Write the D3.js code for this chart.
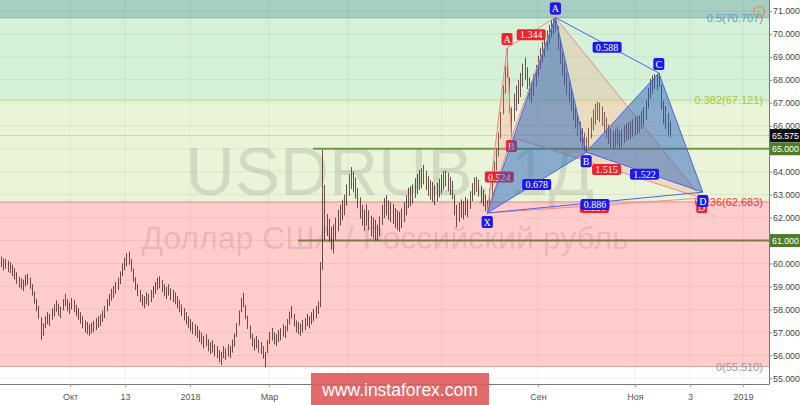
<!DOCTYPE html>
<html><head><meta charset="utf-8">
<script src="https://cdn.jsdelivr.net/npm/d3@7"></script>
<style>body{margin:0;background:#fff;overflow:hidden}svg{display:block;font-family:"Liberation Sans",Arial,sans-serif}</style>
</head><body><svg id="c" width="800" height="405"></svg>
<script>
// ---- data ----
const highs = [
60.30,60.22,60.20,60.12,60.05,59.95,59.80,59.62,59.42,59.35,
59.30,59.50,59.55,59.38,59.10,58.78,58.45,58.15,57.65,57.40,
57.70,57.88,57.80,58.05,58.22,58.40,58.25,58.12,58.45,58.68,
58.45,58.30,58.50,58.40,58.20,58.05,57.88,57.70,57.52,57.45,
57.35,57.42,57.50,57.62,57.70,57.78,57.95,58.15,58.45,58.68,
58.90,59.02,59.20,59.38,59.65,60.00,60.25,60.45,60.52,60.20,
59.78,59.40,59.10,58.85,58.65,58.58,58.75,58.68,58.85,59.02,
59.20,59.38,59.45,59.28,59.10,58.98,59.10,58.92,58.85,58.75,
58.58,58.40,58.22,58.05,57.88,57.70,57.58,57.45,57.35,57.28,
57.10,57.00,56.85,56.92,56.70,56.58,56.65,56.48,56.40,56.22,
56.15,56.40,56.30,56.48,56.40,56.68,56.95,57.40,57.95,58.50,
58.72,58.20,57.72,57.30,56.95,56.75,56.85,56.68,56.58,56.40,
56.15,56.68,57.02,57.20,57.00,56.92,57.10,57.18,57.35,57.28,
57.58,57.90,58.15,57.80,57.52,57.45,57.38,57.55,57.62,57.80,
57.70,57.88,58.02,58.15,58.35,60.06,64.94,63.42,62.15,61.95,
61.60,61.70,62.00,62.35,62.55,62.78,63.00,63.45,63.88,64.20,
64.00,63.75,63.30,62.88,62.55,62.35,62.58,62.32,62.08,62.00,
61.90,61.70,62.05,62.55,62.85,62.98,62.75,62.68,62.60,62.42,
62.32,62.25,62.40,62.68,62.98,63.30,63.38,63.45,63.72,63.90,
64.08,64.15,64.30,64.05,63.80,63.62,63.55,63.40,63.52,63.70,
63.88,64.02,64.05,63.95,63.78,63.60,63.00,62.55,62.65,62.80,
62.72,62.90,62.80,63.15,63.50,63.75,63.78,63.65,63.40,63.22,
63.00,62.75,63.25,63.85,64.45,65.00,65.70,66.60,67.75,68.60,
69.39,68.10,66.80,67.40,67.75,68.00,68.30,68.70,68.98,68.55,
68.10,67.95,68.25,68.65,69.05,69.40,69.65,69.90,70.15,70.40,
70.62,70.68,70.72,70.35,69.75,69.20,68.75,68.30,67.95,67.60,
67.15,66.80,66.48,66.18,65.90,65.70,65.50,65.90,66.35,66.70,
66.95,67.05,67.00,66.85,66.60,66.35,66.05,65.88,65.75,65.85,
65.95,65.78,65.85,66.02,66.10,66.15,66.20,66.28,66.38,66.42,
66.45,66.65,66.82,67.10,67.65,68.05,68.20,68.25,68.22,68.30,
67.80,67.10,66.85,66.55,66.20];
const lows = [
59.85,59.70,59.78,59.62,59.58,59.45,59.30,59.12,58.95,58.88,
58.80,59.00,59.08,58.88,58.60,58.25,57.92,57.60,56.68,56.85,
57.18,57.35,57.28,57.55,57.70,57.90,57.72,57.62,57.95,58.15,
57.92,57.80,58.00,57.88,57.70,57.55,57.38,57.18,57.00,56.92,
56.85,56.95,57.02,57.10,57.20,57.28,57.45,57.62,57.92,58.15,
58.38,58.50,58.68,58.85,59.10,59.45,59.70,59.88,59.95,59.65,
59.20,58.85,58.58,58.32,58.15,58.05,58.22,58.15,58.32,58.50,
58.68,58.85,58.92,58.75,58.58,58.45,58.60,58.40,58.32,58.22,
58.05,57.88,57.70,57.52,57.35,57.18,57.05,56.92,56.85,56.75,
56.58,56.48,56.30,56.40,56.18,56.05,56.12,55.95,55.88,55.70,
55.58,55.88,55.80,55.95,55.88,56.12,56.38,56.80,57.30,57.88,
58.10,57.58,57.15,56.72,56.38,56.20,56.30,56.12,56.05,55.85,
55.48,56.10,56.48,56.65,56.48,56.40,56.58,56.65,56.82,56.75,
57.05,57.35,57.60,57.25,57.00,56.92,56.85,57.00,57.10,57.28,
57.18,57.35,57.48,57.60,57.80,58.10,59.71,61.02,61.20,60.95,
60.60,60.45,61.05,61.40,61.65,61.88,62.10,62.52,62.95,63.25,
63.10,62.82,62.40,61.95,61.65,61.42,61.65,61.45,61.18,61.10,
61.00,60.98,61.20,61.68,61.98,62.10,61.90,61.80,61.72,61.55,
61.45,61.38,61.55,61.80,62.10,62.42,62.50,62.60,62.85,63.02,
63.20,63.28,63.45,63.20,62.95,62.78,62.68,62.55,62.70,62.88,
63.05,63.22,63.35,63.15,62.98,62.80,62.10,61.58,61.82,62.00,
61.92,62.10,62.02,62.38,62.72,62.98,63.10,62.92,62.65,62.48,
62.28,62.20,62.45,62.95,63.50,64.05,64.65,65.45,66.50,67.40,
68.10,66.55,65.51,66.20,66.65,66.95,67.25,67.70,68.00,67.60,
67.15,67.00,67.30,67.70,68.12,68.48,68.75,69.00,69.30,69.58,
69.85,70.00,70.10,69.30,68.70,68.20,67.75,67.35,67.00,66.65,
66.22,65.88,65.58,65.30,65.05,64.90,64.85,65.02,65.45,65.80,
66.05,66.25,66.15,65.98,65.72,65.45,65.20,65.05,64.98,65.05,
65.15,64.98,65.08,65.25,65.35,65.40,65.42,65.52,65.60,65.65,
65.70,65.85,66.02,66.25,66.75,67.20,67.40,67.60,67.55,67.70,
66.70,66.10,65.85,65.60,65.50];
const lastPrice = 65.575;
const timeTickBars = [31.4, 56.4, 85.9, 121.8, 157.7, 200.3, 244.1, 288.2, 313.2, 337.3];
const timeTickLabels = ["Окт","13","2018","Мар","Май","Июл","Сен","Ноя","3","2019"];
const priceTicks = [55,56,57,58,59,60,61,62,63,64,65,66,67,68,69,70,71];
const fibRatios = [0, 0.236, 0.382, 0.5, 0.618];
const fibPrices = [55.510, 62.683, 67.121, 70.707, 74.29];
const levelPrices = [65, 61];
const levelStartBars = [141.8, 135];
const ptNames = ["X","A","B","C","D"];
const ptKinds = ["low","high","low","high","low"];
const redIdx = [221, 230, 232, 252, 318.5];
const redPrice = [62.20, 69.39, 65.51, 70.72, 62.85];
const redRatios = ["0.524","1.344","1.515","0.886"];   // XB, AC, BD, XD
const blueIdx = [221, 252, 266, 299, 319];
const bluePrice = [62.20, 70.72, 64.85, 68.30, 63.11];
const blueRatios = ["0.678","0.588","1.522","0.886"];  // XB, AC, BD, XD

// ---- layout / style ----
const plotR = 769, plotB = 384;
const svg = d3.select("#c");
const x = d3.scaleLinear().domain([0, 349]).range([1, 768.8]);
const y = d3.scaleLinear().domain([55, 71]).range([378.3, 11]);
const bandColors = ["#ffcccc", "#eaf4d8", "#d5f1d8", "#a7cec3"];
const fibLineColors = ["#caa0a0", "#f08878", "#b6de84", "#7fb8b0"];
const fibTextColors = ["#9a9a9a", "#f03a3a", "#a6cc3c", "#5a9ad6"];

svg.append("defs").append("clipPath").attr("id","pc").append("rect")
  .attr("x",0).attr("y",0).attr("width",plotR).attr("height",plotB);
const g = svg.append("g").attr("clip-path","url(#pc)");

// bands
for (let i = 0; i < 4; i++) {
  const yt = y(fibPrices[i+1]), yb = y(fibPrices[i]);
  g.append("rect").attr("x",0).attr("width",plotR)
    .attr("y",Math.max(0,yt)).attr("height",yb-Math.max(0,yt)).attr("fill",bandColors[i]);
}
// grid
g.selectAll(".hg").data(priceTicks).join("line")
  .attr("x1",0).attr("x2",plotR).attr("y1",d=>y(d)).attr("y2",d=>y(d))
  .attr("stroke","#000").attr("stroke-opacity",0.06);
g.selectAll(".vg").data(timeTickBars).join("line")
  .attr("x1",d=>x(d)).attr("x2",d=>x(d)).attr("y1",0).attr("y2",plotB)
  .attr("stroke","#000").attr("stroke-opacity",0.05);

// watermark
g.append("text").attr("x",390).attr("y",195).attr("text-anchor","middle")
  .attr("font-size",68).attr("fill","#000").attr("fill-opacity",0.1).text("USDRUB, 1Д");
g.append("text").attr("x",385).attr("y",249).attr("text-anchor","middle")
  .attr("font-size",32).attr("fill","#000").attr("fill-opacity",0.1).text("Доллар США / Российский рубль");

// fib lines + labels
for (let i = 0; i < 4; i++) {
  g.append("line").attr("x1",0).attr("x2",plotR).attr("y1",y(fibPrices[i])).attr("y2",y(fibPrices[i]))
    .attr("stroke",fibLineColors[i]).attr("stroke-width",1);
  g.append("text").attr("x",763).attr("y",y(fibPrices[i])+4).attr("text-anchor","end")
    .attr("font-size",11).attr("fill",fibTextColors[i])
    .text(`${fibRatios[i]}(${fibPrices[i].toFixed(3)})`);
}

// last price line
g.append("line").attr("x1",0).attr("x2",plotR).attr("y1",y(lastPrice)).attr("y2",y(lastPrice))
  .attr("stroke","#8a8a8a").attr("stroke-opacity",0.6).attr("stroke-dasharray","1,1");

// support/resistance
const levelColors = ["#6a9a3c", "#7c7a3e"];
levelPrices.forEach((p,i) => {
  g.append("line").attr("x1",x(levelStartBars[i])).attr("x2",plotR).attr("y1",y(p)).attr("y2",y(p))
    .attr("stroke",levelColors[i]).attr("stroke-width",2);
});

// bars
g.append("g").selectAll("line").data(highs).join("line")
  .attr("x1",(d,i)=>Math.round(x(i))+0.5).attr("x2",(d,i)=>Math.round(x(i))+0.5)
  .attr("y1",d=>y(d)).attr("y2",(d,i)=>y(lows[i]))
  .attr("stroke","#3b1f1f").attr("stroke-opacity",0.75).attr("stroke-width",1);

// harmonic patterns
function pattern(idx, price, fill, stroke) {
  const P = idx.map((d,i)=>[x(d), y(price[i])]);
  const [X,A,B,C,D] = P;
  const pg = g.append("g");
  [[X,A,B],[B,C,D]].forEach(t => pg.append("path")
    .attr("d","M"+t.map(p=>p.join(",")).join("L")+"Z").attr("fill",fill).attr("stroke","none"));
  const segs = [[X,A],[A,B],[B,C],[C,D],[X,B],[B,D],[A,C],[X,D]];
  segs.forEach(s => pg.append("line").attr("x1",s[0][0]).attr("y1",s[0][1]).attr("x2",s[1][0]).attr("y2",s[1][1])
    .attr("stroke",stroke).attr("stroke-width",1));
  return {P, pg};
}
function ratioBox(pg, cx, cy, t, col) {
  pg.append("rect").attr("x",cx-14.5).attr("y",cy-5.5).attr("width",29).attr("height",11).attr("rx",2).attr("fill",col);
  pg.append("text").attr("x",cx).attr("y",cy+3.6).attr("text-anchor","middle").attr("fill","#fff")
    .attr("font-family","'Liberation Serif',serif").attr("font-size",10).text(t);
}
function ptBox(pg, p, name, kind, col) {
  const cy = kind === "high" ? p[1]-9 : p[1]+9;
  pg.append("rect").attr("x",p[0]-5.5).attr("y",cy-6).attr("width",11).attr("height",12).attr("rx",2).attr("fill",col);
  pg.append("text").attr("x",p[0]).attr("y",cy+3.6).attr("text-anchor","middle").attr("fill","#fff")
    .attr("font-family","'Liberation Serif',serif").attr("font-size",10).text(name);
}
const red = pattern(redIdx, redPrice, "rgba(245,135,105,0.22)", "#f08a8a");
const blue = pattern(blueIdx, bluePrice, "rgba(33,95,190,0.48)", "#4a66e6");
function labels(o, ratios, col) {
  const [X,A,B,C,D] = o.P;
  const pairs = [[X,B],[A,C],[B,D],[X,D]];
  pairs.forEach((pr,i)=> ratioBox(o.pg,(pr[0][0]+pr[1][0])/2,(pr[0][1]+pr[1][1])/2+2,ratios[i],col));
}
labels(red, redRatios, "#f0222a");
red.P.forEach((p,i)=>ptBox(red.pg,p,ptNames[i],ptKinds[i],"#f0222a"));
labels(blue, blueRatios, "#1a1af0");
blue.P.forEach((p,i)=>ptBox(blue.pg,p,ptNames[i],ptKinds[i],"#1a1af0"));

// axes
svg.append("line").attr("x1",0).attr("x2",plotR).attr("y1",plotB+0.5).attr("y2",plotB+0.5).attr("stroke","#777");
svg.append("line").attr("x1",plotR+0.5).attr("x2",plotR+0.5).attr("y1",0).attr("y2",plotB+0.5).attr("stroke","#777");
const ra = svg.append("g").attr("transform",`translate(${plotR},0)`)
  .call(d3.axisRight(y).tickValues(priceTicks).tickSize(3).tickFormat(d=>d.toFixed(3)));
ra.select(".domain").remove();
ra.selectAll("line").attr("stroke","#888");
ra.selectAll("text").attr("font-size",8.8).attr("fill","#444").attr("font-family","'Liberation Sans',Arial,sans-serif").attr("x",4);
const ba = svg.append("g").attr("transform",`translate(0,${plotB})`)
  .call(d3.axisBottom(x).tickValues(timeTickBars).tickSize(3).tickFormat((d,i)=>timeTickLabels[i]));
ba.select(".domain").remove();
ba.selectAll("line").attr("stroke","#999");
ba.selectAll("text").attr("font-size",9).attr("fill","#555").attr("font-family","'Liberation Sans',Arial,sans-serif").attr("dy","1.1em");

// right price boxes
function priceBox(p, bg) {
  svg.append("rect").attr("x",plotR+1).attr("y",y(p)-6.5).attr("width",800-plotR).attr("height",13).attr("fill",bg);
  svg.append("text").attr("x",plotR+3).attr("y",y(p)+3.3).attr("font-size",8.8).attr("fill","#fff").text(p.toFixed(3));
}
priceBox(lastPrice, "#111");
priceBox(levelPrices[0], "#4d7d2a");
priceBox(levelPrices[1], "#4d7d2a");

// info icon
svg.append("circle").attr("cx",759).attr("cy",12).attr("r",5.5).attr("fill","none").attr("stroke","#f0883a").attr("stroke-width",1.2);
svg.append("text").attr("x",759).attr("y",15.5).attr("text-anchor","middle").attr("font-size",9).attr("fill","#f0883a").text("!");

// instaforex badge
svg.append("rect").attr("x",311).attr("y",373).attr("width",178).attr("height",32).attr("fill","#e05a5a").attr("fill-opacity",0.9);
svg.append("text").attr("x",400).attr("y",395.5).attr("text-anchor","middle").attr("font-size",17.5).attr("fill","#fff").text("www.instaforex.com");
</script></body></html>
